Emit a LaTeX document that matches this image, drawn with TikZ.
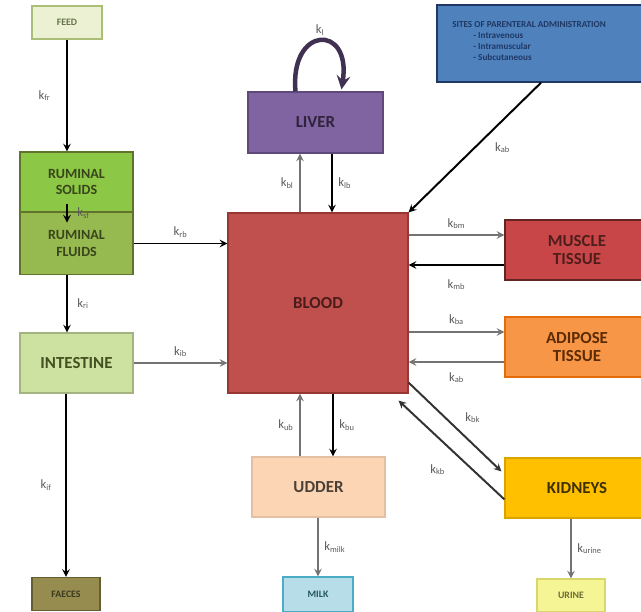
\documentclass[tikz,border=0pt]{standalone}
\usepackage{fontspec}
\setmainfont{Carlito}
\usepackage{tikz}
\usetikzlibrary{arrows, positioning, calc}
\definecolor{feedfill}{RGB}{235,241,210}
\definecolor{feedline}{RGB}{170,190,120}
\definecolor{solidsfill}{RGB}{140,200,70}
\definecolor{fluidsfill}{RGB}{150,185,80}
\definecolor{ruminalline}{RGB}{95,115,45}
\definecolor{intestinefill}{RGB}{205,225,160}
\definecolor{faecesfill}{RGB}{150,140,80}
\definecolor{faecesline}{RGB}{100,95,50}
\definecolor{liverfill}{RGB}{128,100,162}
\definecolor{liverline}{RGB}{95,73,122}
\definecolor{bloodfill}{RGB}{192,80,77}
\definecolor{bloodline}{RGB}{150,55,52}
\definecolor{dosefill}{RGB}{79,129,189}
\definecolor{doseline}{RGB}{31,56,100}
\definecolor{musclefill}{RGB}{200,70,72}
\definecolor{muscleline}{RGB}{99,37,35}
\definecolor{adiposefill}{RGB}{247,150,70}
\definecolor{adiposeline}{RGB}{228,108,10}
\definecolor{kidneyfill}{RGB}{255,192,0}
\definecolor{udderfill}{RGB}{252,213,180}
\definecolor{milkfill}{RGB}{183,222,232}
\definecolor{milkline}{RGB}{75,172,198}
\definecolor{urinefill}{RGB}{245,245,150}
\definecolor{urineline}{RGB}{215,215,110}
\definecolor{arrowgray}{RGB}{115,115,115}
\definecolor{labelgray}{RGB}{90,90,90}
\definecolor{loopcolor}{RGB}{64,49,82}

\begin{document}
\begin{tikzpicture}[x=0.025cm, y=-0.025cm,
        box/.style={rectangle, draw, line width=0.8pt, align=center, inner sep=2pt, font=\fontsize{12}{13}\selectfont\bfseries},
        smallbox/.style={box, font=\fontsize{7}{8}\selectfont\bfseries},
        arrow/.style={->, >=stealth, line width=1.4pt},
        grayarrow/.style={arrow, draw=arrowgray},
        klab/.style={font=\fontsize{9}{10}\selectfont, text=labelgray, inner sep=1pt}
    ]
        \useasboundingbox (0,0) rectangle (641,612);

        % Oral route
        \node[smallbox, fill=feedfill, draw=feedline, text=feedline!60!black, minimum width=1.75cm, minimum height=0.825cm] (feed) at (67,22.5) {FEED};
        \node[box, fill=solidsfill, draw=ruminalline, text=ruminalline!60!black, font=\fontsize{10}{12}\selectfont\bfseries, minimum width=2.825cm, minimum height=1.5cm] (solids) at (76.5,182) {RUMINAL\\SOLIDS};
        \node[box, fill=fluidsfill, draw=ruminalline, text=ruminalline!60!black, font=\fontsize{10}{12}\selectfont\bfseries, minimum width=2.825cm, minimum height=1.55cm] (fluids) at (76.5,243.5) {RUMINAL\\FLUIDS};
        \node[box, fill=intestinefill, draw=intestinefill!80!black, text=ruminalline!70!black, minimum width=2.825cm, minimum height=1.5cm] (intestine) at (76.5,363) {INTESTINE};
        \node[smallbox, fill=faecesfill, draw=faecesline, text=faecesline!60!black, minimum width=1.7cm, minimum height=0.825cm] (faeces) at (66,594) {FAECES};

        % Central compartment
        \node[box, fill=bloodfill, draw=bloodline, text=bloodline!50!black, minimum width=4.5cm, minimum height=4.5cm] (blood) at (318,303) {BLOOD};
        \node[box, fill=liverfill, draw=liverline, text=liverline!50!black, minimum width=3.375cm, minimum height=1.525cm] (liver) at (315.5,122.5) {LIVER};

        % Parenteral route
        \node[rectangle, draw=doseline, line width=1pt, fill=dosefill, minimum width=5.2cm, minimum height=1.925cm] (dose) at (541,43.5) {};
        \node[anchor=north west, align=left, text=doseline, inner sep=0pt, font=\fontsize{6.5}{7.8}\selectfont\bfseries] (dosetext) at (452,21) {SITES OF PARENTERAL ADMINISTRATION\\\hspace*{15pt}- Intravenous\\\hspace*{15pt}- Intramuscular\\\hspace*{15pt}- Subcutaneous};

        % Tissues
        \node[box, fill=musclefill, draw=muscleline, text=muscleline!80!black, minimum width=3.6cm, minimum height=1.5cm] (muscle) at (577,250) {MUSCLE\\TISSUE};
        \node[box, fill=adiposefill, draw=adiposeline, text=adiposeline!40!black, minimum width=3.6cm, minimum height=1.5cm] (adipose) at (577,347) {ADIPOSE\\TISSUE};
        \node[box, fill=kidneyfill, draw=kidneyfill!85!black, text=kidneyfill!25!black, minimum width=3.6cm, minimum height=1.5cm] (kidneys) at (577,488) {KIDNEYS};
        \node[box, fill=udderfill, draw=udderfill!90!black, text=udderfill!30!black, minimum width=3.325cm, minimum height=1.5cm] (udder) at (318.5,487) {UDDER};

        % Excreta
        \node[smallbox, fill=milkfill, draw=milkline, text=milkline!50!black, minimum width=1.75cm, minimum height=0.875cm] (milk) at (318,594.5) {MILK};
        \node[smallbox, fill=urinefill, draw=urineline, text=urineline!50!black, minimum width=1.7cm, minimum height=0.825cm] (urine) at (571,595.5) {URINE};

        % Arrows
        \draw[arrow] (feed.south) -- node[klab, left=0.35cm] (kfr) {k\textsubscript{fr}} (feed.south |- solids.north);
        \draw[arrow] ($(feed.south |- solids.south)+(0,-9)$) -- node[klab, right=0.2cm] (ksf) {k\textsubscript{sf}} ($(feed.south |- solids.south)+(0,10)$);
        \draw[arrow] (fluids.east) -- node[klab, above=0.1cm] (krb) {k\textsubscript{rb}} (fluids.east -| blood.west);
        \draw[arrow] (feed.south |- fluids.south) -- node[klab, right=0.2cm] (kri) {k\textsubscript{ri}} (feed.south |- intestine.north);
        \draw[grayarrow] (intestine.east) -- node[klab, above=0.1cm] (kib) {k\textsubscript{ib}} (intestine.east -| blood.west);
        \draw[arrow] (faeces.north |- intestine.south) -- node[klab, left=0.3cm] (kif) {k\textsubscript{if}} (faeces.north);

        \draw[grayarrow] ($(blood.north)+(-18,0)$) -- node[klab, left=0.1cm] (kbl) {k\textsubscript{bl}} ($(blood.north |- liver.south)+(-18,0)$);
        \draw[arrow] ($(blood.north |- liver.south)+(14,0)$) -- node[klab, right=0.1cm] (klb) {k\textsubscript{lb}} ($(blood.north)+(14,0)$);
        \draw[->, >=stealth, line width=3.2pt, draw=loopcolor] ($(liver.north)+(-20,0)$) .. controls +(-6,-66) and +(10,-66) .. node[klab, above=0.05cm] (kl) {k\textsubscript{l}} ($(liver.north)+(26,-2)$);

        \draw[arrow] (dose.south) -- node[klab, right=0.45cm] (kdb) {k\textsubscript{ab}} (blood.north east);

        \draw[grayarrow] ($(blood.east)+(0,-68)$) -- node[klab, above=0.1cm] (kbm) {k\textsubscript{bm}} ($(blood.east -| muscle.west)+(0,-68)$);
        \draw[arrow] ($(blood.east -| muscle.west)+(0,-38)$) -- node[klab, below=0.3cm] (kmb) {k\textsubscript{mb}} ($(blood.east)+(0,-38)$);
        \draw[grayarrow] ($(blood.east)+(0,29)$) -- node[klab, above=0.12cm] (kba) {k\textsubscript{ba}} ($(blood.east -| adipose.west)+(0,29)$);
        \draw[grayarrow] ($(blood.east -| adipose.west)+(0,59)$) -- node[klab, below=0.2cm] (kab) {k\textsubscript{ab}} ($(blood.east)+(0,59)$);

        \draw[arrow, draw=black!80] ($(blood.south east)+(0,-11)$) -- node[klab, above right=0.05cm and 0.2cm] (kbk) {k\textsubscript{bk}} ($(kidneys.north west)+(-3,14)$);
        \draw[arrow, draw=black!80] ($(kidneys.north west)+(0,42)$) -- node[klab, below left=0.3cm and 0.1cm] (kkb) {k\textsubscript{kb}} ($(blood.south east)+(-10,7)$);

        \draw[grayarrow] ($(blood.south |- udder.north)+(-18,0)$) -- node[klab, left=0.1cm] (kub) {k\textsubscript{ub}} ($(blood.south)+(-18,0)$);
        \draw[arrow] ($(blood.south)+(15,0)$) -- node[klab, right=0.1cm] (kbu) {k\textsubscript{bu}} ($(blood.south |- udder.north)+(15,0)$);

        \draw[grayarrow] (milk.north |- udder.south) -- node[klab, right=0.1cm] (kmilk) {k\textsubscript{milk}} (milk.north);
        \draw[grayarrow] (urine.north |- kidneys.south) -- node[klab, right=0.1cm] (kurine) {k\textsubscript{urine}} (urine.north);
\end{tikzpicture}
\end{document}
